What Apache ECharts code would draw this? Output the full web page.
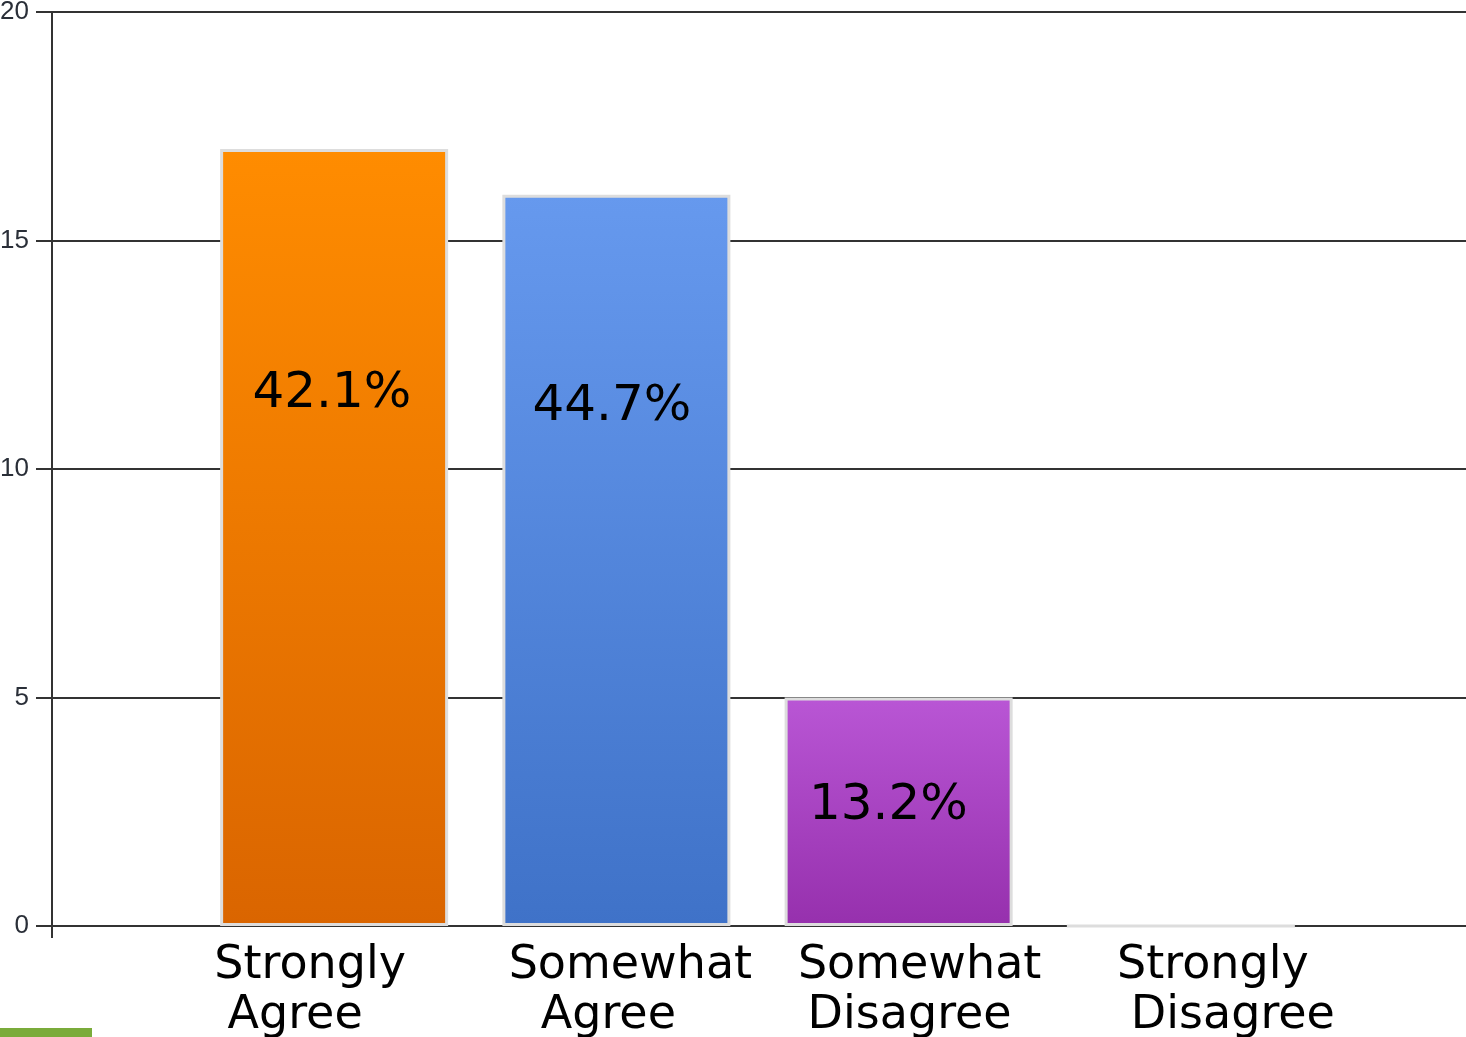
<!DOCTYPE html>
<html>
<head>
<meta charset="utf-8">
<script src="https://cdn.jsdelivr.net/npm/echarts@6/dist/echarts.min.js"></script>
<style>
html,body{margin:0;padding:0;background:#fff;}
#chart{width:1466px;height:1037px;}
</style>
</head>
<body>
<div id="chart"></div>
<script>
// ---- data ----
var categories = ['Strongly\nAgree', 'Somewhat\nAgree', 'Somewhat\nDisagree', 'Strongly\nDisagree'];
var counts = [17, 16, 5, 0];
var pctLabels = ['42.1%', '44.7%', '13.2%', ''];
var yMin = 0, yMax = 20, yStep = 5;

// ---- styles ----
var barColors = [
  ['#ff8c00', '#da6500'],
  ['#6699ee', '#3f72c8'],
  ['#b956d5', '#9630ad']
];
var labelPos = [['49%', '31.5%'], ['48%', '29%'], ['45.5%', '47.3%'], ['50%', '50%']];
// horizontal shift (px) of each line of each category label
var lineShift = [[-24, -39], [14, -8], [21, 11], [32, 52]];

var chart = echarts.init(document.getElementById('chart'));

var seriesData = counts.map(function (v, i) {
  var c = barColors[i % barColors.length];
  return {
    value: v,
    itemStyle: {
      color: new echarts.graphic.LinearGradient(0, 0, 0, 1, [
        { offset: 0, color: c[0] },
        { offset: 1, color: c[1] }
      ]),
      borderColor: '#dddddd',
      borderWidth: 3
    },
    label: {
      show: pctLabels[i] !== '',
      position: labelPos[i],
      align: 'center',
      verticalAlign: 'middle'
    }
  };
});

var rich = {};
lineShift.forEach(function (shifts, i) {
  shifts.forEach(function (d, j) {
    rich['c' + i + '_' + j] = {
      fontFamily: 'DejaVu Sans', fontSize: 46, lineHeight: 50, color: '#000',
      padding: d >= 0 ? [0, 0, 0, 2 * d] : [0, -2 * d, 0, 0]
    };
  });
});

var option = {
  backgroundColor: '#ffffff',
  animation: false,
  grid: [
    { left: 52, right: -3, top: 12, bottom: 111, containLabel: false, outerBoundsMode: 'none' },
    { left: 193, right: 144, top: 12, bottom: 111, containLabel: false, outerBoundsMode: 'none' }
  ],
  xAxis: [
    {
      gridIndex: 0, type: 'value', min: 0, max: 1, interval: 1,
      axisLine: { show: true, lineStyle: { color: '#333', width: 2 } },
      axisTick: { show: true, length: 12, lineStyle: { color: '#333', width: 2 } },
      axisLabel: { show: false },
      splitLine: { show: false }
    },
    {
      gridIndex: 1, type: 'category', data: categories,
      axisLine: { show: false }, axisTick: { show: false },
      splitLine: { show: false },
      axisLabel: {
        show: true, interval: 0, margin: 15,
        fontFamily: 'DejaVu Sans', fontSize: 46, lineHeight: 50, color: '#000',
        formatter: function (value, idx) {
          return value.split('\n').map(function (line, j) {
            return '{c' + idx + '_' + j + '|' + line + '}';
          }).join('\n');
        },
        rich: rich
      }
    }
  ],
  yAxis: [
    {
      gridIndex: 0, type: 'value', min: yMin, max: yMax, interval: yStep,
      axisLine: { show: true, lineStyle: { color: '#333', width: 2 } },
      axisTick: { show: true, length: 16, lineStyle: { color: '#333', width: 2 } },
      splitLine: { show: true, lineStyle: { color: '#333', width: 2 } },
      axisLabel: {
        margin: 23, fontFamily: 'Liberation Sans', fontSize: 26, color: '#2a2f38'
      }
    },
    { gridIndex: 1, type: 'value', min: yMin, max: yMax, interval: yStep, show: false }
  ],
  series: [
    {
      type: 'bar',
      xAxisIndex: 1, yAxisIndex: 1,
      barWidth: 228,
      data: seriesData,
      label: {
        show: true,
        formatter: function (p) { return pctLabels[p.dataIndex]; },
        fontFamily: 'DejaVu Sans', fontSize: 50, color: '#000'
      }
    }
  ],
  graphic: [
    { type: 'rect', left: 0, bottom: 0, shape: { width: 92, height: 9 }, style: { fill: '#7aab3a' } }
  ]
};

chart.setOption(option);
</script>
</body>
</html>
